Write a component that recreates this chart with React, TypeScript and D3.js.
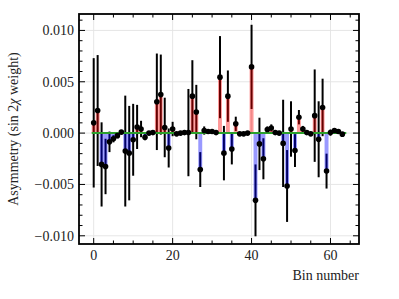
import * as d3 from "d3";

// asymmetry per bin (x 1e-3)
const values = [
  1.0, 2.2, -3.05, -3.25, -0.85, -0.55, -0.25, 0.1,
  -1.75, -1.95, -0.65, 0.6, 0.4, -0.4, 0.0, 0.05,
  3.05, 3.75, 0.55, -1.45, 0.4, -0.07, 0.0, 0.05,
  0.05, 3.6, 2.05, -3.55, 0.25, 0.15, 0.15, 0.05,
  5.45, -1.95, 3.6, -1.55, 0.9, -0.07, -0.07, 0.0,
  6.45, -6.55, -1.05, -2.5, 0.35, 0.5, 0.05, 0.0,
  -1.0, -5.15, 0.4, -1.7, 1.55, 0.4, 0.05, -0.07,
  1.7, -0.6, 2.5, -3.7, 0.05, 0.25, 0.15, -0.1,
];
const errors = [
  6.3, 5.4, 4.1, 2.7, 1.0, 0.35, 0.25, 0.2,
  5.4, 4.6, 3.5, 2.15, 0.8, 0.3, 0.2, 0.2,
  4.7, 3.9, 2.9, 1.9, 0.7, 0.15, 0.15, 0.15,
  4.25, 3.5, 2.65, 1.7, 0.4, 0.15, 0.15, 0.15,
  4.0, 2.65, 2.5, 1.5, 0.7, 0.15, 0.15, 0.15,
  4.1, 3.5, 2.55, 2.0, 0.3, 0.35, 0.15, 0.15,
  4.25, 3.5, 2.7, 1.6, 0.7, 0.3, 0.15, 0.15,
  4.5, 3.7, 2.8, 1.7, 0.3, 0.2, 0.15, 0.15,
];
const xMajor = [0, 20, 40, 60];
const yMajor = [-0.01, -0.005, 0, 0.005, 0.01];

const bins = values.map((v, i) => ({ bin: i, y: v * 1e-3, err: errors[i] * 1e-3 }));

const W = 399;
const H = 299;
const m = { left: 79, right: 40, top: 14, bottom: 55 };
const font = "'Liberation Serif', 'DejaVu Serif', serif";

const fmt = (v: number) => {
  const s = Math.abs(v).toFixed(3);
  return v < -1e-9 ? "\u2212" + s : s;
};

const App = () => {
  const xScale = d3.scaleLinear().domain([-3.725, 67.225]).range([m.left, W - m.right]);
  const yScale = d3.scaleLinear().domain([-0.0108, 0.0116]).range([H - m.bottom, m.top]);
  const [x0, x1] = xScale.range();
  const [y0, y1] = yScale.range();

  const xMinor = d3.range(0, 66, 5).filter((t) => !xMajor.includes(t));
  const yMinor = d3.range(-10, 12, 1).map((t) => t * 1e-3).filter((t) => !yMajor.some((mj) => Math.abs(mj - t) < 1e-9));

  return (
    <div style={{ position: "absolute", left: 0, top: 0 }}>
      <svg width={W} height={H} style={{ display: "block" }}>
        <rect width={W} height={H} fill="white" />
        {/* grid */}
        <g stroke="#e3e3e3" strokeWidth={0.9}>
          {xMajor.map((t) => (
            <line key={"gx" + t} x1={xScale(t)} x2={xScale(t)} y1={y0} y2={y1} />
          ))}
          {yMajor.map((t) => (
            <line key={"gy" + t} x1={x0} x2={x1} y1={yScale(t)} y2={yScale(t)} />
          ))}
        </g>
        {/* error bars */}
        <g stroke="black" strokeWidth={2}>
          {bins.map((d) => (
            <line
              key={"e" + d.bin}
              x1={xScale(d.bin)}
              x2={xScale(d.bin)}
              y1={yScale(d.y - d.err)}
              y2={yScale(d.y + d.err)}
            />
          ))}
        </g>
        {/* bars */}
        <g>
          {bins.map((d) => (
            <rect
              key={"b" + d.bin}
              x={xScale(d.bin - 0.5)}
              width={xScale(d.bin + 0.5) - xScale(d.bin - 0.5)}
              y={Math.min(yScale(0), yScale(d.y))}
              height={Math.abs(yScale(d.y) - yScale(0))}
              fill={d.y >= 0 ? "red" : "blue"}
              fillOpacity={0.4}
            />
          ))}
        </g>
        {/* zero line */}
        <line x1={xScale(-0.5)} x2={xScale(64)} y1={yScale(0)} y2={yScale(0)} stroke="#2ca02c" strokeWidth={2} />
        {/* markers */}
        <g fill="black">
          {bins.map((d) => (
            <circle key={"p" + d.bin} cx={xScale(d.bin)} cy={yScale(d.y)} r={2.8} />
          ))}
        </g>
        {/* ticks */}
        <g stroke="black" strokeWidth={1}>
          {xMajor.map((t) => (
            <g key={"tx" + t}>
              <line x1={xScale(t)} x2={xScale(t)} y1={y0} y2={y0 - 6} />
              <line x1={xScale(t)} x2={xScale(t)} y1={y1} y2={y1 + 6} />
            </g>
          ))}
          {xMinor.map((t) => (
            <g key={"mx" + t}>
              <line x1={xScale(t)} x2={xScale(t)} y1={y0} y2={y0 - 3.5} />
              <line x1={xScale(t)} x2={xScale(t)} y1={y1} y2={y1 + 3.5} />
            </g>
          ))}
          {yMajor.map((t) => (
            <g key={"ty" + t}>
              <line x1={x0} x2={x0 + 6} y1={yScale(t)} y2={yScale(t)} />
              <line x1={x1} x2={x1 - 6} y1={yScale(t)} y2={yScale(t)} />
            </g>
          ))}
          {yMinor.map((t) => (
            <g key={"my" + t}>
              <line x1={x0} x2={x0 + 3.5} y1={yScale(t)} y2={yScale(t)} />
              <line x1={x1} x2={x1 - 3.5} y1={yScale(t)} y2={yScale(t)} />
            </g>
          ))}
        </g>
        {/* frame */}
        <rect x={x0} y={y1} width={x1 - x0} height={y0 - y1} fill="none" stroke="black" strokeWidth={1.8} />
        {/* tick labels */}
        <g fontFamily={font} fontSize={14} fill="#222">
          {xMajor.map((t) => (
            <text key={"lx" + t} x={xScale(t)} y={y0 + 15.5} textAnchor="middle">
              {t}
            </text>
          ))}
          {yMajor.map((t) => (
            <text key={"ly" + t} x={x0 - 5} y={yScale(t)} dy="0.35em" textAnchor="end">
              {fmt(t)}
            </text>
          ))}
          <text x={x1} y={y0 + 36} textAnchor="end">
            Bin number
          </text>
          <text transform={`translate(18,${(y0 + y1) / 2}) rotate(-90)`} textAnchor="middle">
            Asymmetry (sin 2<tspan fontStyle="italic">χ</tspan> weight)
          </text>
        </g>
      </svg>
    </div>
  );
};

export default App;
